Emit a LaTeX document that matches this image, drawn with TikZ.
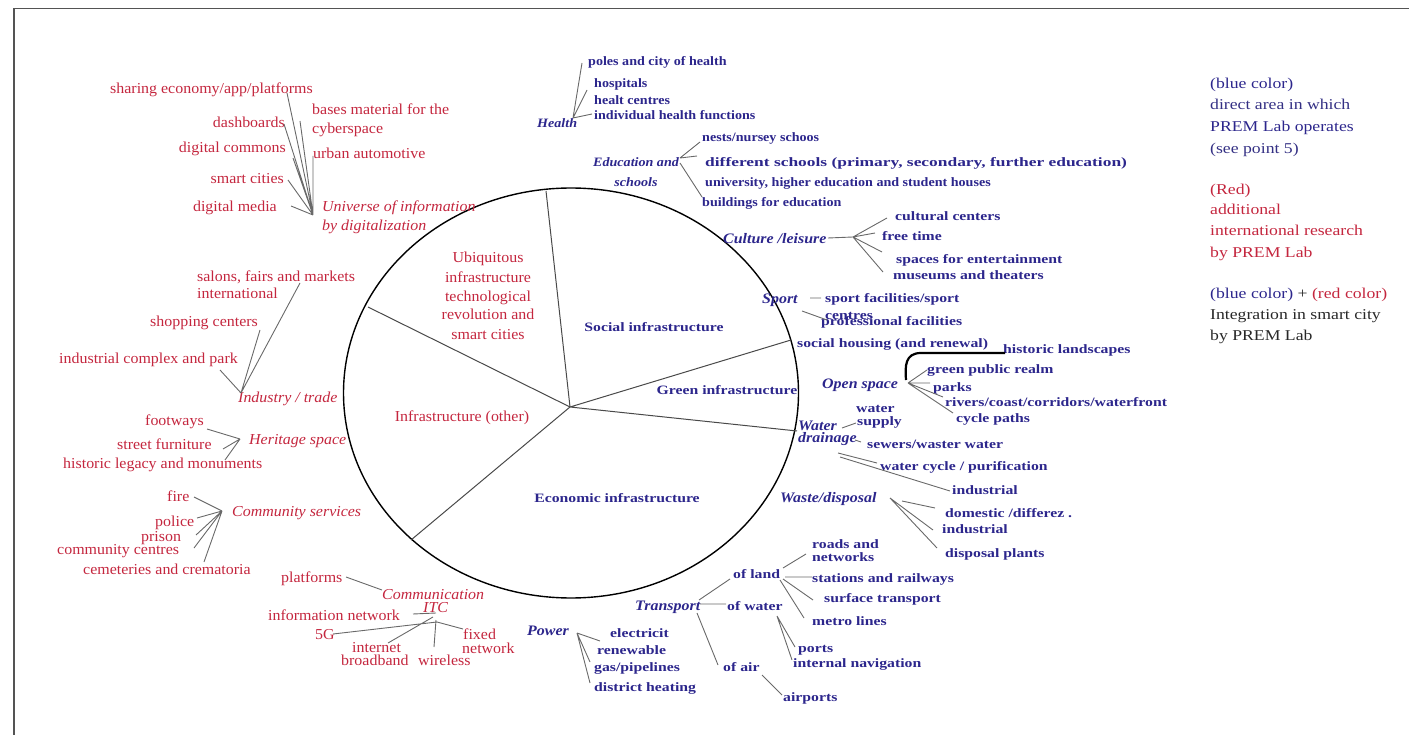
\documentclass[tikz,border=0pt]{standalone}
\usepackage{fontspec}
\usetikzlibrary{shapes.geometric}
\newfontfamily\fA[FakeStretch=1.05]{Liberation Serif}
\newfontfamily\fB[FakeStretch=1.1]{Liberation Serif}
\newfontfamily\fC[FakeStretch=1.18]{Liberation Serif}
\newfontfamily\fD[FakeStretch=1.23]{Liberation Serif}
\newfontfamily\fE[FakeStretch=1.36]{Liberation Serif}
\definecolor{cred}{RGB}{196,38,62}
\definecolor{cblue}{RGB}{44,38,140}
\definecolor{cblueL}{RGB}{52,48,132}
\definecolor{cgray}{RGB}{105,105,105}
\definecolor{cdark}{RGB}{40,40,40}
\tikzset{
  rl/.style={text=cred, inner sep=0pt, yshift=-3pt, font=\fA\fontsize{15.2}{18}\selectfont},
  ri/.style={text=cred, inner sep=0pt, yshift=-3pt, font=\fA\itshape\fontsize{15.2}{18}\selectfont},
  bl/.style={text=cblue, inner sep=0pt, yshift=-3pt, font=\fB\bfseries\fontsize{12.8}{15}\selectfont},
  bw/.style={text=cblue, inner sep=0pt, yshift=-3pt, font=\fD\bfseries\fontsize{12.8}{15}\selectfont},
  bx/.style={text=cblue, inner sep=0pt, yshift=-3pt, font=\fE\bfseries\fontsize{12.8}{15}\selectfont},
  bi/.style={text=cblue, inner sep=0pt, yshift=-3pt, font=\fB\bfseries\itshape\fontsize{14.5}{17}\selectfont},
  bis/.style={text=cblue, inner sep=0pt, yshift=-3pt, font=\fB\bfseries\itshape\fontsize{12.8}{15}\selectfont},
  lg/.style={inner sep=0pt, anchor=mid west, yshift=-3pt, font=\fC\fontsize{15}{18}\selectfont},
  conn/.style={draw=cgray, line width=0.9pt},
}
\begin{document}
\begin{tikzpicture}[x=1pt,y=-1pt]
\useasboundingbox (0,0) rectangle (1409,735);
% frame
\draw[cgray!80!black, line width=1.6pt] (14,735) -- (14,8.7) -- (1409,8.7);

% pie
\node[draw, ellipse, line width=1.4pt, minimum width=455pt, minimum height=410pt, inner sep=0pt] (pie) at (571,393) {};
\coordinate (sc) at (570,407);
\coordinate (sp1) at (546,191);
\coordinate (sp2) at (368,307);
\coordinate (sp3) at (791,340);
\coordinate (sp4) at (797,431);
\coordinate (sp5) at (411,540);
\draw[cgray!70!black, line width=1pt] (sc) -- (sp1) (sc) -- (sp2) (sc) -- (sp3) (sc) -- (sp4) (sc) -- (sp5);

\node[rl, anchor=mid] (ub1) at (488,257) {Ubiquitous};
\node[rl, anchor=mid] (ub2) at (488,277) {infrastructure};
\node[rl, anchor=mid] (ub3) at (488,296) {technological};
\node[rl, anchor=mid] (ub4) at (488,314) {revolution and};
\node[rl, anchor=mid] (ub5) at (488,334) {smart cities};
\node[bw, anchor=mid] (socinf) at (654,326) {Social infrastructure};
\node[bw, anchor=mid] (greeninf) at (727,389) {Green infrastructure};
\node[rl, anchor=mid] (othinf) at (462,416) {Infrastructure (other)};
\node[bw, anchor=mid] (ecoinf) at (617,497) {Economic infrastructure};

% ---------- Universe of information ----------
\node[rl, anchor=mid west] (sharing) at (110,88) {sharing economy/app/platforms};
\node[rl, anchor=mid west] (bases1) at (312,109) {bases material for the};
\node[rl, anchor=mid west] (bases2) at (312,128) {cyberspace};
\node[rl, anchor=mid east] (dashb) at (285,122) {dashboards};
\node[rl, anchor=mid east] (dcom) at (286,147) {digital commons};
\node[rl, anchor=mid west] (urban) at (313,153) {urban automotive};
\node[rl, anchor=mid east] (smart) at (284,178) {smart cities};
\node[rl, anchor=mid east] (dmedia) at (277,206) {digital media};
\node[ri, anchor=mid west] (univ1) at (322,206) {Universe of information};
\node[ri, anchor=mid west] (univ2) at (322,225) {by digitalization};
\coordinate (uH) at (313,215);
\coordinate (u1) at (287,93);
\coordinate (u2) at (300,121);
\coordinate (u3) at (284,124);
\coordinate (u4) at (293,158);
\coordinate (u5) at (313,156);
\coordinate (u6) at (288,180);
\coordinate (u7) at (291,206);
\draw[conn] (u1) -- (uH) (u2) -- (uH) (u3) -- (uH) (u4) -- (uH) (u5) -- (uH) (u6) -- (uH) (u7) -- (uH);

% ---------- Industry / trade ----------
\node[rl, anchor=mid west] (salons1) at (197,276) {salons, fairs and markets};
\node[rl, anchor=mid west] (salons2) at (197,293) {international};
\node[rl, anchor=mid west] (shop) at (150,321) {shopping centers};
\node[rl, anchor=mid west] (indc) at (59,358) {industrial complex and park};
\node[ri, anchor=mid west] (indtr) at (238,397) {Industry / trade};
\coordinate (iH) at (241,393);
\coordinate (i1) at (300,283);
\coordinate (i2) at (260,330);
\coordinate (i3) at (220,370);
\draw[conn] (i1) -- (iH) (i2) -- (iH) (i3) -- (iH);

% ---------- Heritage space ----------
\node[rl, anchor=mid west] (foot) at (145,420) {footways};
\node[ri, anchor=mid west] (herit) at (249,439) {Heritage space};
\node[rl, anchor=mid west] (street) at (117,444) {street furniture};
\node[rl, anchor=mid west] (histleg) at (63,463) {historic legacy and monuments};
\coordinate (hH) at (240,439);
\coordinate (h1) at (207,429);
\coordinate (h2) at (223,449);
\coordinate (h3) at (225,460);
\draw[conn] (h1) -- (hH) (h2) -- (hH) (h3) -- (hH);

% ---------- Community services ----------
\node[rl, anchor=mid west] (fire) at (167,496) {fire};
\node[ri, anchor=mid west] (comserv) at (232,511) {Community services};
\node[rl, anchor=mid west] (police) at (155,521) {police};
\node[rl, anchor=mid west] (prison) at (141,536) {prison};
\node[rl, anchor=mid west] (ccent) at (57,549) {community centres};
\node[rl, anchor=mid west] (cemet) at (83,569) {cemeteries and crematoria};
\coordinate (cH) at (222,511);
\coordinate (c1) at (194,497);
\coordinate (c2) at (197,518);
\coordinate (c3) at (196,535);
\coordinate (c4) at (194,548);
\coordinate (c5) at (204,562);
\draw[conn] (c1) -- (cH) (c2) -- (cH) (c3) -- (cH) (c4) -- (cH) (c5) -- (cH);

% ---------- Communication ITC ----------
\node[rl, anchor=mid west] (platf) at (281,577) {platforms};
\node[ri, anchor=mid west] (comm) at (382,594) {Communication};
\node[ri, anchor=mid west] (itc) at (423,607) {ITC};
\node[rl, anchor=mid west] (infonet) at (268,615) {information network};
\node[rl, anchor=mid west] (g5) at (315,634) {5G};
\node[rl, anchor=mid west] (inet1) at (352,647) {internet};
\node[rl, anchor=mid west] (inet2) at (341,660) {broadband};
\node[rl, anchor=mid west] (wless) at (418,660) {wireless};
\node[rl, anchor=mid west] (fixed1) at (463,634) {fixed};
\node[rl, anchor=mid west] (fixed2) at (462,648) {network};
\coordinate (p1) at (346,577);
\coordinate (p2) at (382,590);
\coordinate (n1) at (413,614);
\coordinate (n2) at (436,613);
\coordinate (ccH) at (437,622);
\coordinate (g1) at (333,634);
\coordinate (ib1) at (388,643);
\coordinate (ib2) at (433,617);
\coordinate (wl1) at (434,647);
\coordinate (wl2) at (436,620);
\coordinate (fx1) at (463,629);
\draw[conn] (p1) -- (p2) (n1) -- (n2) (g1) -- (ccH) (ib1) -- (ib2) (wl1) -- (wl2) (fx1) -- (ccH);

% ---------- Health ----------
\node[bl, anchor=mid west] (poles) at (588,60) {poles and city of health};
\node[bl, anchor=mid west] (hosp) at (594,82) {hospitals};
\node[bl, anchor=mid west] (healt) at (594,99) {healt centres};
\node[bl, anchor=mid west] (indiv) at (594,114) {individual health functions};
\node[bis, anchor=mid west] (health) at (537,122) {Health};
\coordinate (hhH) at (573,118);
\coordinate (hp1) at (582,63);
\coordinate (hp2) at (587,90);
\coordinate (hp3) at (592,114);
\draw[conn] (hp1) -- (hhH) (hp2) -- (hhH) (hp3) -- (hhH);

% ---------- Education ----------
\node[bl, anchor=mid west] (nests) at (702,136) {nests/nursey schoos};
\node[bis, anchor=mid west] (edu1) at (593,161) {Education and};
\node[bis, anchor=mid] (edu2) at (636,181) {schools};
\node[bx, anchor=mid west] (diffs) at (705,161) {different schools (primary, secondary, further education)};
\node[bl, anchor=mid west] (univh) at (705,181) {university, higher education and student houses};
\node[bl, anchor=mid west] (buildg) at (702,201) {buildings for education};
\coordinate (eH) at (680,158);
\coordinate (eH2) at (680,163);
\coordinate (e1) at (700,142);
\coordinate (e2) at (697,156);
\coordinate (e3) at (702,197);
\draw[conn] (e1) -- (eH) (e2) -- (eH) (e3) -- (eH2);

% ---------- Culture / leisure ----------
\node[bw, anchor=mid west] (cult) at (895,215) {cultural centers};
\node[bi, anchor=mid west] (culture) at (723,238) {Culture /leisure};
\node[bw, anchor=mid west] (free) at (882,235) {free time};
\node[bw, anchor=mid west] (spaces) at (896,258) {spaces for entertainment};
\node[bw, anchor=mid west] (museums) at (893,274) {museums and theaters};
\coordinate (k0) at (828,238);
\coordinate (kH) at (853,237);
\coordinate (k1) at (887,218);
\coordinate (k2) at (875,233);
\coordinate (k3) at (882,252);
\coordinate (k4) at (883,272);
\draw[conn] (k0) -- (kH) (kH) -- (k1) (kH) -- (k2) (kH) -- (k3) (kH) -- (k4);

% ---------- Sport ----------
\node[bi, anchor=mid west] (sport) at (762,298) {Sport};
\node[bw, anchor=mid west] (sportfac) at (825,297) {sport facilities/sport};
\node[bw, anchor=mid west] (centres) at (825,314) {centres};
\node[bw, anchor=mid west] (prof) at (821,320) {professional facilities};
\coordinate (s1) at (810,298);
\coordinate (s2) at (821,298);
\coordinate (s3) at (802,311);
\coordinate (s4) at (827,320);
\draw[conn] (s1) -- (s2) (s3) -- (s4);
\node[bw, anchor=mid west] (socialh) at (797,342) {social housing (and renewal)};

% ---------- Open space ----------
\node[bw, anchor=mid west] (histl) at (1003,348) {historic landscapes};
\node[bw, anchor=mid west] (greenp) at (927,368) {green public realm};
\node[bi, anchor=mid west] (open) at (822,383) {Open space};
\node[bw, anchor=mid west] (parks) at (933,386) {parks};
\node[bw, anchor=mid west] (rivers) at (945,401) {rivers/coast/corridors/waterfront};
\node[bw, anchor=mid west] (cycle) at (956,417) {cycle paths};
\coordinate (ob1) at (1005,353);
\coordinate (ob2) at (921,353);
\coordinate (ob3) at (906,380);
\draw[black, line width=2.2pt] (ob1) -- (ob2) .. controls (905,353) and (905,366) .. (ob3);
\coordinate (oH) at (908,383);
\coordinate (o1) at (927,370);
\coordinate (o2) at (930,383);
\coordinate (o3) at (943,397);
\coordinate (o4) at (953,413);
\draw[conn] (oH) -- (o1) (oH) -- (o2) (oH) -- (o3) (oH) -- (o4);

% ---------- Water drainage ----------
\node[bi, anchor=mid west] (water1) at (798,425) {Water};
\node[bi, anchor=mid west] (water2) at (798,437) {drainage};
\node[bw, anchor=mid west] (ws1) at (856,407) {water};
\node[bw, anchor=mid west] (ws2) at (857,420) {supply};
\node[bw, anchor=mid west] (sewers) at (867,443) {sewers/waster water};
\node[bw, anchor=mid west] (wcycle) at (880,465) {water cycle / purification};
\node[bw, anchor=mid west] (indw) at (952,489) {industrial};
\coordinate (w1) at (842,428);
\coordinate (w2) at (856,423);
\coordinate (w3) at (855,440);
\coordinate (w4) at (861,442);
\coordinate (w5) at (838,453);
\coordinate (w6) at (877,463);
\coordinate (w7) at (840,457);
\coordinate (w8) at (950,491);
\draw[conn] (w1) -- (w2) (w3) -- (w4) (w5) -- (w6) (w7) -- (w8);

% ---------- Waste / disposal ----------
\node[bi, anchor=mid west] (waste) at (780,497) {Waste/disposal};
\node[bw, anchor=mid west] (dom) at (945,512) {domestic /differez .};
\node[bw, anchor=mid west] (indw2) at (942,528) {industrial};
\node[bw, anchor=mid west] (disp) at (945,552) {disposal plants};
\coordinate (xH) at (890,498);
\coordinate (x1) at (933,530);
\coordinate (x2) at (937,548);
\coordinate (x3) at (902,501);
\coordinate (x4) at (935,508);
\draw[conn] (xH) -- (x1) (xH) -- (x2) (x3) -- (x4);

% ---------- Transport ----------
\node[bw, anchor=mid west] (roads1) at (812,543) {roads and};
\node[bw, anchor=mid west] (roads2) at (812,556) {networks};
\node[bw, anchor=mid west] (ofland) at (733,573) {of land};
\node[bw, anchor=mid west] (stations) at (812,577) {stations and railways};
\node[bw, anchor=mid west] (surface) at (824,597) {surface transport};
\node[bi, anchor=mid west] (transp) at (635,605) {Transport};
\node[bw, anchor=mid west] (ofwater) at (727,605) {of water};
\node[bw, anchor=mid west] (metro) at (812,620) {metro lines};
\node[bw, anchor=mid west] (ofair) at (723,666) {of air};
\node[bw, anchor=mid west] (ports) at (798,647) {ports};
\node[bw, anchor=mid west] (internal) at (793,662) {internal navigation};
\node[bw, anchor=mid west] (airports) at (783,696) {airports};
\coordinate (t1) at (699,600);
\coordinate (t2) at (730,579);
\coordinate (t3) at (700,604);
\coordinate (t4) at (726,604);
\coordinate (t5) at (697,613);
\coordinate (t6) at (718,665);
\coordinate (l0) at (783,568);
\coordinate (l1) at (806,554);
\coordinate (l2) at (785,577);
\coordinate (l3) at (812,577);
\coordinate (l4) at (783,579);
\coordinate (l5) at (813,600);
\coordinate (l6) at (780,580);
\coordinate (l7) at (804,618);
\coordinate (v0) at (777,616);
\coordinate (v1) at (795,647);
\coordinate (v2) at (792,660);
\coordinate (a0) at (762,675);
\coordinate (a1) at (782,695);
\draw[conn] (t1) -- (t2) (t3) -- (t4) (t5) -- (t6) (l0) -- (l1) (l2) -- (l3) (l4) -- (l5) (l6) -- (l7) (v0) -- (v1) (v0) -- (v2) (a0) -- (a1);

% ---------- Power ----------
\node[bi, anchor=mid west] (power) at (527,630) {Power};
\node[bw, anchor=mid west] (elec) at (610,632) {electricit};
\node[bw, anchor=mid west] (renew) at (597,649) {renewable};
\node[bw, anchor=mid west] (gas) at (594,666) {gas/pipelines};
\node[bw, anchor=mid west] (distr) at (594,686) {district heating};
\coordinate (pH) at (577,633);
\coordinate (pw1) at (600,641);
\coordinate (pw2) at (590,662);
\coordinate (pw3) at (590,683);
\draw[conn] (pH) -- (pw1) (pH) -- (pw2) (pH) -- (pw3);

% ---------- Legend ----------
\node[lg, text=cblue] (lg1) at (1210,83) {(blue color)};
\node[lg, text=cblueL] (lg2) at (1210,104) {direct area in which};
\node[lg, text=cblue] (lg3) at (1210,126) {PREM Lab operates};
\node[lg, text=cblueL] (lg4) at (1210,148) {(see point 5)};
\node[lg, text=cred] (lg5) at (1210,189) {(Red)};
\node[lg, text=cred] (lg6) at (1210,209) {additional};
\node[lg, text=cred] (lg7) at (1210,230) {international research};
\node[lg, text=cred] (lg8) at (1210,252) {by PREM Lab};
\node[lg, text=cdark] (lg9) at (1210,293) {\textcolor{cblue}{(blue color)} + \textcolor{cred}{(red color)}};
\node[lg, text=cdark] (lg10) at (1210,314) {Integration in smart city};
\node[lg, text=cdark] (lg11) at (1210,335) {by PREM Lab};
\end{tikzpicture}
\end{document}
